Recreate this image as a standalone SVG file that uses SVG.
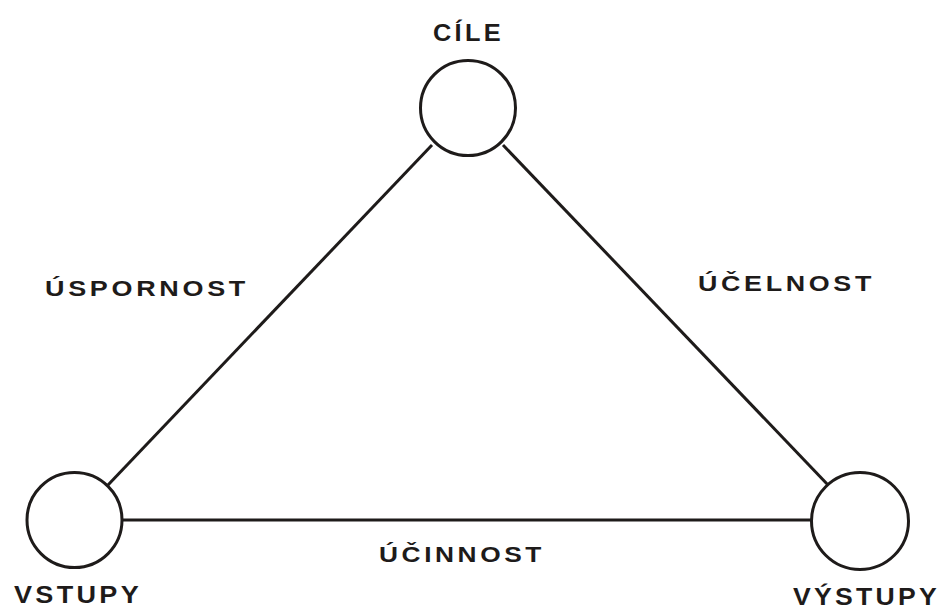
<svg xmlns="http://www.w3.org/2000/svg" width="945" height="610" viewBox="0 0 945 610">
  <style>
    .node { fill: #ffffff; stroke: #1e1b1a; stroke-width: 3; }
    .edge { stroke: #1e1b1a; stroke-width: 3; fill: none; }
    .lbl { font-family: "Liberation Sans", Arial, sans-serif; font-weight: bold; fill: #1e1b1a; letter-spacing: 3px; }
  </style>
  <rect width="945" height="610" fill="#ffffff"/>

  <!-- connectors between the three nodes -->
  <g id="connectors">
    <line class="edge" x1="432" y1="145" x2="108" y2="485"/>
    <line class="edge" x1="503" y1="145" x2="829" y2="486"/>
    <line class="edge" x1="123" y1="520" x2="811" y2="520"/>
  </g>

  <!-- edge labels -->
  <g id="edge-labels">
    <text class="lbl" x="45" y="296" font-size="22" textLength="204" lengthAdjust="spacingAndGlyphs">ÚSPORNOST</text>
    <text class="lbl" x="698" y="291" font-size="22" textLength="177" lengthAdjust="spacingAndGlyphs">ÚČELNOST</text>
    <text class="lbl" x="379" y="562" font-size="22" textLength="166" lengthAdjust="spacingAndGlyphs">ÚČINNOST</text>
  </g>

  <g id="cile">
    <circle class="node" cx="468" cy="108" r="47.5"/>
    <text class="lbl" x="433" y="41" font-size="23" textLength="71" lengthAdjust="spacingAndGlyphs">CÍLE</text>
  </g>

  <g id="vstupy">
    <circle class="node" cx="74.5" cy="520" r="47.5"/>
    <text class="lbl" x="14" y="603" font-size="24.5" textLength="128" lengthAdjust="spacingAndGlyphs">VSTUPY</text>
  </g>

  <g id="vystupy">
    <circle class="node" cx="860" cy="521" r="48.5"/>
    <text class="lbl" x="793" y="605" font-size="24.5" textLength="147" lengthAdjust="spacingAndGlyphs">VÝSTUPY</text>
  </g>
</svg>
